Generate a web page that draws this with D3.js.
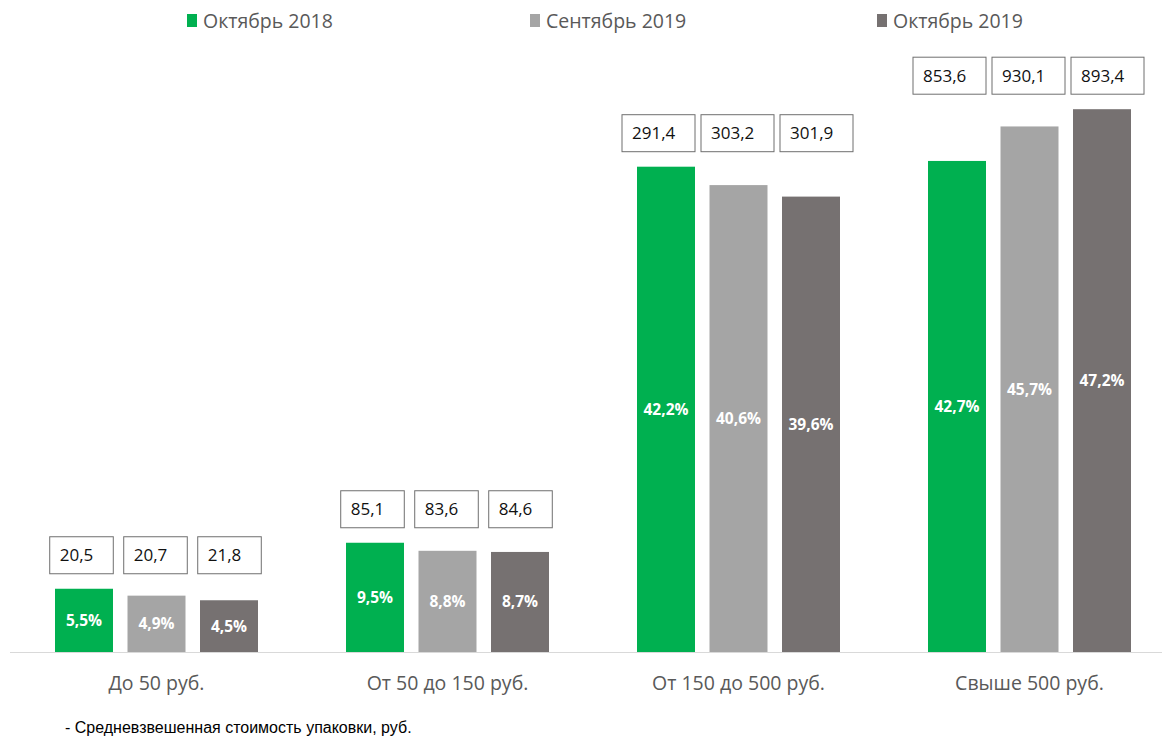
<!DOCTYPE html>
<html>
<head>
<meta charset="utf-8">
<script src="https://cdn.jsdelivr.net/npm/d3@7"></script>
<style>
  body { margin: 0; background: #fff; }
  svg { display: block; }
</style>
</head>
<body>
<svg id="chart" width="1162" height="736"></svg>
<script>
// Data
const categories = ["До 50 руб.", "От 50 до 150 руб.", "От 150 до 500 руб.", "Свыше 500 руб."];
const series = ["Октябрь 2018", "Сентябрь 2019", "Октябрь 2019"];
const colors = ["#00b050", "#a5a5a5", "#767171"];
// share of sales, %
const share_oct2018 = [5.5, 9.5, 42.2, 42.7];
const share_sep2019 = [4.9, 8.8, 40.6, 45.7];
const share_oct2019 = [4.5, 8.7, 39.6, 47.2];
// weighted average package price, rub.
const price_oct2018 = [20.5, 85.1, 291.4, 853.6];
const price_sep2019 = [20.7, 83.6, 303.2, 930.1];
const price_oct2019 = [21.8, 84.6, 301.9, 893.4];

const shares = [share_oct2018, share_sep2019, share_oct2019];
const prices = [price_oct2018, price_sep2019, price_oct2019];
const fmt = v => d3.format(".1f")(v).replace(".", ",");

const svg = d3.select("#chart");
const baseline = 652;

// Scales
const x0 = d3.scaleBand().domain(categories).range([11, 1175]);
const x1 = d3.scaleBand().domain(series).range([44, 247]).paddingInner(0.2);
const y = d3.scaleLinear().domain([0, 50]).range([baseline, 77]);
const color = d3.scaleOrdinal().domain(series).range(colors);
const group_mid = (44 + 247) / 2;

// Legend
const legend_x = [187, 530, 877];
const legend = svg.append("g").selectAll("g")
    .data(series).join("g")
    .attr("transform", (d, i) => `translate(${legend_x[i]},21)`);
legend.append("rect")
    .attr("x", 0).attr("y", -7).attr("width", 10).attr("height", 13)
    .attr("fill", d => color(d));
legend.append("text")
    .attr("x", 16).attr("dy", "0.35em")
    .attr("font-family", "Open Sans").attr("font-size", 19.5)
    .attr("fill", "#595959")
    .text(d => d);

// Axis line
svg.append("line")
    .attr("x1", 10).attr("x2", 1162)
    .attr("y1", baseline + 0.5).attr("y2", baseline + 0.5)
    .attr("stroke", "#d9d9d9").attr("stroke-width", 1);

// Flatten bars
const bars = [];
categories.forEach((cat, ci) => {
    series.forEach((s, si) => {
        bars.push({cat, s, si, share: shares[si][ci], price: prices[si][ci]});
    });
});

const groups = svg.append("g").selectAll("g")
    .data(categories).join("g")
    .attr("transform", d => `translate(${x0(d)},0)`);

groups.selectAll("rect.bar")
    .data(cat => bars.filter(b => b.cat === cat))
    .join("rect").attr("class", "bar")
    .attr("x", d => x1(d.s))
    .attr("width", x1.bandwidth())
    .attr("y", d => y(d.share))
    .attr("height", d => baseline - y(d.share))
    .attr("fill", d => color(d.s));

// Share labels inside bars
groups.selectAll("text.share")
    .data(cat => bars.filter(b => b.cat === cat))
    .join("text").attr("class", "share")
    .attr("x", d => x1(d.s) + x1.bandwidth() / 2)
    .attr("y", d => (y(d.share) + baseline) / 2)
    .attr("dy", "0.35em")
    .attr("text-anchor", "middle")
    .attr("font-family", "Open Sans").attr("font-size", 15.5).attr("font-weight", "bold")
    .attr("fill", "#fff")
    .text(d => fmt(d.share) + "%");

// Price boxes above each group
const box_h = 37;
groups.each(function(cat) {
    const g = d3.select(this);
    const items = bars.filter(b => b.cat === cat);
    const top = y(d3.max(items, b => b.share)) - 15 - box_h;
    items.forEach(d => {
        const t = g.append("text")
            .attr("y", top + box_h / 2)
            .attr("dy", "0.35em")
            .attr("font-family", "Open Sans").attr("font-size", 17)
            .attr("fill", "#111")
            .text(fmt(d.price));
        const w = Math.min(t.node().getComputedTextLength() + 30, 73);
        const spacing = Math.max(74, w + 6);
        const cx = group_mid - 1 + (d.si - 1) * spacing;
        t.attr("x", cx - w / 2 + 10);
        g.insert("rect", "text")
            .attr("x", cx - w / 2).attr("y", top)
            .attr("width", w).attr("height", box_h)
            .attr("fill", "#fff").attr("stroke", "#6f6f6f").attr("stroke-width", 1);
    });
});

// Category labels
svg.append("g").selectAll("text")
    .data(categories).join("text")
    .attr("x", d => x0(d) + group_mid)
    .attr("y", 683).attr("dy", "0.35em")
    .attr("text-anchor", "middle")
    .attr("font-family", "Open Sans").attr("font-size", 19.5)
    .attr("fill", "#595959")
    .text(d => d);

// Footnote
svg.append("text")
    .attr("x", 65).attr("y", 727).attr("dy", "0.35em")
    .attr("font-family", "Liberation Sans").attr("font-size", 16)
    .attr("fill", "#000")
    .text("- Средневзвешенная стоимость упаковки, руб.");
</script>
</body>
</html>
